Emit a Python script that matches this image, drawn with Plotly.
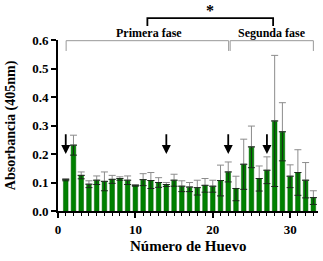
import plotly.graph_objects as go

huevo = list(range(1, 34))
absorbancia = [0.110, 0.231, 0.125, 0.094, 0.108, 0.104, 0.111, 0.114, 0.108, 0.090,
               0.110, 0.107, 0.100, 0.093, 0.108, 0.087, 0.084, 0.082, 0.090, 0.087,
               0.107, 0.137, 0.079, 0.164, 0.225, 0.114, 0.143, 0.316, 0.278, 0.122,
               0.135, 0.108, 0.047]
error = [0.004, 0.035, 0.012, 0.012, 0.015, 0.033, 0.014, 0.006, 0.015, 0.003,
         0.021, 0.028, 0.017, 0.007, 0.021, 0.019, 0.016, 0.026, 0.024, 0.021,
         0.054, 0.035, 0.043, 0.088, 0.073, 0.044, 0.047, 0.230, 0.102, 0.040,
         0.080, 0.062, 0.024]
flechas = [1, 14, 22, 27]
x_ticks = [0, 10, 20, 30]
y_ticks = [0.0, 0.1, 0.2, 0.3, 0.4, 0.5, 0.6]

FONT = "Liberation Serif"
zeros = [0] * len(huevo)

fig = go.Figure()
fig.add_trace(go.Bar(
    x=huevo, y=absorbancia, width=0.6,
    marker=dict(color="#008000", line=dict(color="#006400", width=0.5)),
    error_y=dict(type="data", symmetric=False, array=error, arrayminus=zeros,
                 color="#8c8c8c", thickness=1, width=3.5),
    showlegend=False,
))
fig.add_trace(go.Scatter(
    x=huevo, y=absorbancia, mode="markers",
    marker=dict(size=1, color="rgba(0,0,0,0)"),
    error_y=dict(type="data", symmetric=False, array=zeros, arrayminus=error,
                 color="#1a2a1a", thickness=1, width=3.5),
    showlegend=False, hoverinfo="skip",
))

for f in flechas:
    fig.add_annotation(x=f, y=0.2, ax=f, ay=0.275, xref="x", yref="y",
                       axref="x", ayref="y", showarrow=True, text="",
                       arrowhead=2, arrowsize=1, arrowwidth=1.8, arrowcolor="black")

# Phase brackets (paper y)
grey = "#999999"
for x0, x1 in [(1.05, 22.05), (22.25, 33.0)]:
    fig.add_shape(type="path", xref="x", yref="paper",
                  path=f"M {x0},0.936 L {x0},0.996 L {x1},0.996 L {x1},0.936",
                  line=dict(color=grey, width=1))
fig.add_annotation(x=11.8, y=1.041, xref="x", yref="paper", text="<b>Primera fase</b>",
                   showarrow=False, yanchor="middle",
                   font=dict(family=FONT, size=12, color="black"))
fig.add_annotation(x=27.7, y=1.041, xref="x", yref="paper", text="<b>Segunda fase</b>",
                   showarrow=False, yanchor="middle",
                   font=dict(family=FONT, size=12, color="black"))
fig.add_shape(type="path", xref="x", yref="paper",
              path="M 11.55,1.082 L 11.55,1.128 L 27.8,1.128 L 27.8,1.082",
              line=dict(color="black", width=1.8))
fig.add_annotation(x=19.6, y=1.172, xref="x", yref="paper", text="<b>*</b>",
                   showarrow=False, yanchor="middle",
                   font=dict(family=FONT, size=16, color="black"))

# Axis titles
fig.add_annotation(x=0.5, y=-0.207, xref="paper", yref="paper", text="<b>Número de Huevo</b>",
                   showarrow=False, xanchor="center", yanchor="middle",
                   font=dict(family=FONT, size=15, color="black"))
fig.add_annotation(x=-0.182, y=0.5, xref="paper", yref="paper", text="<b>Absorbancia (405nm)</b>",
                   textangle=-90, showarrow=False, xanchor="center", yanchor="middle",
                   font=dict(family=FONT, size=14, color="black"))

fig.update_layout(
    width=323, height=261,
    margin=dict(l=57.5, r=5, t=40, b=49.5, autoexpand=False),
    plot_bgcolor="white", paper_bgcolor="white",
    font=dict(family=FONT, color="black"),
)
fig.update_xaxes(
    range=[0, 33.6], tickvals=x_ticks, ticks="outside", ticklen=5, tickwidth=1.5,
    tickcolor="black", showline=True, linecolor="black", linewidth=2,
    showgrid=False, zeroline=False, automargin=False,
    tickfont=dict(family=FONT, size=13, color="black", weight="bold"),
    minor=dict(dtick=1, tick0=0, ticks="outside", ticklen=3, tickcolor="black", tickwidth=1, showgrid=False),
)
fig.update_yaxes(
    range=[0, 0.6], tickvals=y_ticks, tickformat=".1f", ticks="outside", ticklen=5,
    tickwidth=1.5, tickcolor="black", showline=True, linecolor="black", linewidth=2,
    showgrid=False, zeroline=False, automargin=False,
    tickfont=dict(family=FONT, size=13, color="black", weight="bold"),
)

fig.write_html("out.html", config={"displayModeBar": False},
               post_script="document.body.style.margin='0';")
